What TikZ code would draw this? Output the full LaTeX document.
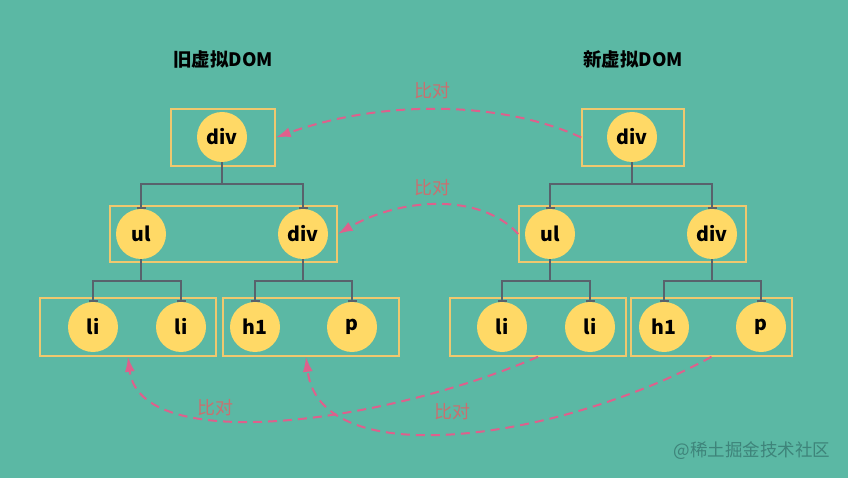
\documentclass[tikz,border=0pt]{standalone}
\usepackage{fontspec}
\setmainfont{Noto Sans CJK SC}
\usetikzlibrary{arrows.meta, positioning}

\begin{document}
\begin{tikzpicture}[x=1pt, y=-1pt,
    vnode/.style={circle, fill=nodeyellow, minimum size=50pt, inner sep=0pt, font=\fontsize{19.5}{19.5}\selectfont\bfseries},
    lvlbox/.style={draw=boxgold, line width=1.5pt, inner sep=0pt},
    link/.style={draw=linkgrey, line width=1.6pt, -{Bar[width=9pt, line width=2pt]}},
    cmp/.style={draw=cmppink, line width=2pt, dash pattern=on 9pt off 6pt, -{Latex[length=15pt, width=10pt]}},
    cmplabel/.style={text=labelred, font=\fontsize{18}{18}\selectfont},
    title/.style={font=\fontsize{18.5}{18.5}\selectfont\bfseries}]
    % colours
    \definecolor{bgteal}{RGB}{91, 184, 164}
    \definecolor{nodeyellow}{RGB}{255, 217, 102}
    \definecolor{boxgold}{RGB}{240, 200, 110}
    \definecolor{linkgrey}{RGB}{88, 98, 108}
    \definecolor{cmppink}{RGB}{222, 96, 140}
    \definecolor{labelred}{RGB}{200, 112, 112}
    \definecolor{wmgrey}{RGB}{62, 132, 122}

    % 0. background
    \fill[bgteal] (0,0) rectangle (848,478);

    % 1. titles
    \node[title] (otitle) at (223,59) {旧虚拟DOM};
    \node[title] (ntitle) at (633,59) {新虚拟DOM};

    % 2. old tree - boxes
    \node[lvlbox, minimum width=104pt, minimum height=57pt] (ob1) at (223,137.5) {};
    \node[lvlbox, minimum width=227pt, minimum height=56pt] (ob2) at (223.5,234) {};
    \node[lvlbox, minimum width=176pt, minimum height=58pt] (ob3l) at (128,327) {};
    \node[lvlbox, minimum width=176pt, minimum height=58pt] (ob3r) at (311,327) {};

    % old tree - nodes
    \node[vnode] (odiv) at (222,137) {div};
    \node[vnode] (oul) at (141,234) {ul};
    \node[vnode] (odiv2) at (303,234) {div};
    \node[vnode] (oli1) at (93,327) {li};
    \node[vnode] (oli2) at (181,327) {li};
    \node[vnode] (oh1) at (255,327) {h1};
    \node[vnode] (op) at (352,327) {p};

    % old tree - links
    \foreach \p/\c in {odiv/oul, odiv/odiv2, oul/oli1, oul/oli2, odiv2/oh1, odiv2/op} {
        \draw[link] (\p.south) -- ++(0,22) -| (\c.north);
    }

    % 3. new tree - boxes
    \node[lvlbox, minimum width=102pt, minimum height=57pt] (nb1) at (633,137.5) {};
    \node[lvlbox, minimum width=227pt, minimum height=56pt] (nb2) at (632.5,234) {};
    \node[lvlbox, minimum width=176pt, minimum height=58pt] (nb3l) at (538,327) {};
    \node[lvlbox, minimum width=161pt, minimum height=58pt] (nb3r) at (711.5,327) {};

    % new tree - nodes
    \node[vnode] (ndiv) at (632,137) {div};
    \node[vnode] (nul) at (550,234) {ul};
    \node[vnode] (ndiv2) at (712,234) {div};
    \node[vnode] (nli1) at (502,327) {li};
    \node[vnode] (nli2) at (590,327) {li};
    \node[vnode] (nh1) at (664,327) {h1};
    \node[vnode] (np) at (761,327) {p};

    % new tree - links
    \foreach \p/\c in {ndiv/nul, ndiv/ndiv2, nul/nli1, nul/nli2, ndiv2/nh1, ndiv2/np} {
        \draw[link] (\p.south) -- ++(0,22) -| (\c.north);
    }

    % 4. compare arrows
    \draw[cmp] (nb1.west) .. controls (500,100) and (380,100) .. (ob1.east);
    \draw[cmp] (nb2.west) .. controls (480,192) and (400,198) .. (ob2.east);
    \draw[cmp] (nb3l.south) .. controls (380,425) and (140,455) .. (ob3l.south);
    \draw[cmp] (nb3r.south) .. controls (560,440) and (320,475) .. ([xshift=-5pt]ob3r.south);

    \node[cmplabel] (cmp1) at (432,91) {比对};
    \node[cmplabel] (cmp2) at (432,188) {比对};
    \node[cmplabel] (cmp3) at (215,408) {比对};
    \node[cmplabel] (cmp4) at (452,412) {比对};

    % 5. watermark
    \node[text=wmgrey, font=\fontsize{17.5}{17.5}\selectfont] (mark) at (752,451) {@稀土掘金技术社区};
\end{tikzpicture}
\end{document}
